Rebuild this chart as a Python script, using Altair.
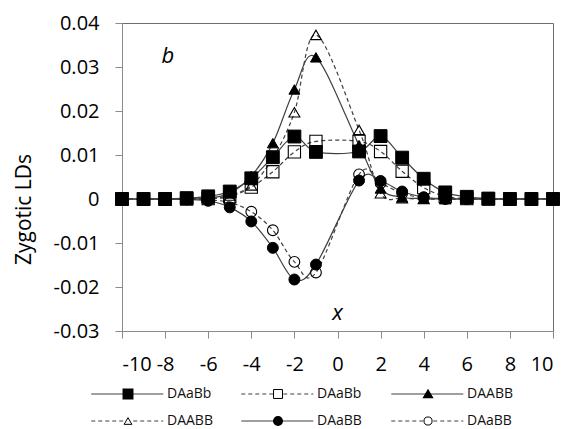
import altair as alt
import pandas as pd

# x positions (x = 0 has no value)
xs = [-10, -9, -8, -7, -6, -5, -4, -3, -2, -1, 1, 2, 3, 4, 5, 6, 7, 8, 9, 10]

daabb_sq_solid = [0, 0, 0, 0.0002, 0.0006, 0.0017, 0.0047, 0.0095, 0.0142, 0.0107,
                  0.0108, 0.0143, 0.0094, 0.0046, 0.0015, 0.0005, 0.0001, 0, 0, 0]
daabb_sq_dashed = [0, 0, 0, 0, 0.0001, 0.0005, 0.0027, 0.0062, 0.0107, 0.0131,
                   0.0131, 0.0108, 0.0063, 0.0026, 0.0006, 0.0001, 0, 0, 0, 0]
daabb_tri_solid = [0, 0, 0, 0, 0.0002, 0.0013, 0.0052, 0.0127, 0.0249, 0.0322,
                   0.0122, 0.0024, 0.0004, 0.0001, 0, 0, 0, 0, 0, 0]
daabb_tri_dashed = [0, 0, 0, 0, 0.0001, 0.0008, 0.0031, 0.0093, 0.0197, 0.0373,
                    0.0157, 0.0013, 0.0002, 0, 0, 0, 0, 0, 0, 0]
daabb_circ_solid = [0, 0, 0, -0.0001, -0.0004, -0.0019, -0.0051, -0.0111, -0.0183, -0.0149,
                    0.0042, 0.0041, 0.0017, 0.0004, 0.0001, 0, 0, 0, 0, 0]
daabb_circ_dashed = [0, 0, 0, 0, -0.0002, -0.0008, -0.0029, -0.0071, -0.0143, -0.0167,
                     0.0056, 0.0036, 0.0013, 0.0003, 0, 0, 0, 0, 0, 0]

series_labels = ["DAaBb", "DAaBb", "DAABB", "DAABB", "DAaBB", "DAaBB"]
series_values = [daabb_sq_solid, daabb_sq_dashed, daabb_tri_solid,
                 daabb_tri_dashed, daabb_circ_solid, daabb_circ_dashed]
# (shape, filled, dashed, marker size, legend marker size)
series_styles = [
    ("square", True, False, 165, 80),
    ("square", False, True, 150, 80),
    ("triangle-up", True, False, 120, 60),
    ("triangle-up", False, True, 120, 60),
    ("circle", True, False, 120, 65),
    ("circle", False, True, 115, 65),
]
legend_cols = [0, 1, 2, 0, 1, 2]
legend_rows = [0, 0, 0, 1, 1, 1]

FONT = "Open Sans"
LINE_COLOR = "#404040"
DASH = [4, 3]

rows = []
for sid, (lab, vals) in enumerate(zip(series_labels, series_values)):
    for x, v in zip(xs, vals):
        rows.append({"sid": sid, "series": lab, "x": x, "y": v})
df = pd.DataFrame(rows)

leg = pd.DataFrame({
    "sid": list(range(6)),
    "series": series_labels,
    "col": legend_cols,
    "row": legend_rows,
})

x_enc = alt.X(
    "x:Q",
    scale=alt.Scale(domain=[-10, 10], nice=False, zero=False),
    axis=alt.Axis(
        values=list(range(-10, 11, 2)),
        title=None,
        grid=False,
        labelExpr="(datum.value < 0 ? '-' : '') + format(abs(datum.value), 'd')",
        labelPadding=16,
    ),
)
y_enc = alt.Y(
    "y:Q",
    scale=alt.Scale(domain=[-0.03, 0.04], nice=False, zero=False),
    axis=alt.Axis(
        values=[-0.03, -0.02, -0.01, 0, 0.01, 0.02, 0.03, 0.04],
        title="Zygotic LDs",
        grid=False,
        labelExpr="abs(datum.value) < 1e-9 ? '0' : (datum.value < 0 ? '-' : '') + format(abs(datum.value), '.2f')",
        labelPadding=16,
        titlePadding=19,
        titleFontSize=21,
        titleFontWeight="normal",
        titleColor="#000",
        titleY=186,
    ),
)

lines = []
points = []
for sid, (shape, filled, dashed, size, _) in enumerate(series_styles):
    sub = alt.Chart(df).transform_filter(alt.datum.sid == sid)
    line_kw = dict(interpolate="cardinal", color=LINE_COLOR, strokeWidth=1.2)
    if dashed:
        line_kw["strokeDash"] = DASH
    lines.append(sub.mark_line(**line_kw).encode(x=x_enc, y=y_enc))
    if filled:
        pt = sub.mark_point(shape=shape, filled=True, fill="#000", stroke="#000",
                            strokeWidth=1, size=size, opacity=1)
    else:
        pt = sub.mark_point(shape=shape, filled=False, stroke="#000", fillOpacity=0,
                            strokeWidth=1.1, size=size, opacity=1)
    points.append(pt.encode(x=x_enc, y=y_enc))

notes = pd.DataFrame({"x": [-7.87, 0.0], "y": [0.0325, -0.0259], "t": ["b", "x"]})
note_layer = alt.Chart(notes).mark_text(
    font=FONT, fontSize=22, fontStyle="italic", color="#000"
).encode(x=x_enc, y=y_enc, text="t:N")

main = alt.layer(*lines, *points, note_layer).properties(
    width=431, height=308, view=alt.ViewBackground(stroke="#6e6e6e", strokeWidth=1)
)

# legend drawn as its own small panel below the plot
lx = alt.X("lx:Q", scale=alt.Scale(domain=[-0.04, 2.833], nice=False, zero=False), axis=None)
lx2 = alt.X2("lx2:Q")
ly = alt.Y("row:Q", scale=alt.Scale(domain=[-0.259, 1.222], nice=False, zero=False, reverse=True), axis=None)

leg_layers = []
for sid, (shape, filled, dashed, _, lsize) in enumerate(series_styles):
    sub = alt.Chart(leg).transform_filter(alt.datum.sid == sid)
    rule_kw = dict(color=LINE_COLOR, strokeWidth=1.2)
    if dashed:
        rule_kw["strokeDash"] = DASH
    leg_layers.append(
        sub.transform_calculate(lx="datum.col - 0.245", lx2="datum.col + 0.235")
        .mark_rule(**rule_kw).encode(x=lx, x2=lx2, y=ly)
    )
for sid, (shape, filled, dashed, _, lsize) in enumerate(series_styles):
    sub = alt.Chart(leg).transform_filter(alt.datum.sid == sid).transform_calculate(lx="datum.col")
    if filled:
        pt = sub.mark_point(shape=shape, filled=True, fill="#000", stroke="#000",
                            size=lsize, opacity=1)
    else:
        pt = sub.mark_point(shape=shape, filled=False, stroke="#000", fill="#fff",
                            fillOpacity=1, strokeWidth=1, size=lsize, opacity=1)
    leg_layers.append(pt.encode(x=lx, y=ly))
leg_layers.append(
    alt.Chart(leg).transform_calculate(lx="datum.col + 0.26")
    .mark_text(font=FONT, fontSize=14, align="left", baseline="middle", color="#111")
    .encode(x=lx, y=ly, text="series:N")
)
legend = alt.layer(*leg_layers).properties(width=431, height=40)

chart = alt.vconcat(main, legend, spacing=10).configure(
    padding={"left": 12, "top": 12, "right": 1, "bottom": 0},
    font=FONT,
).configure_view(stroke="transparent").configure_axis(
    domainColor="#8a8a8a",
    tickColor="#8a8a8a",
    tickSize=7,
    labelFont=FONT,
    labelFontSize=20,
    labelColor="#000",
    titleFont=FONT,
)

chart.save("out.html", embed_options={"renderer": "svg", "actions": False})
